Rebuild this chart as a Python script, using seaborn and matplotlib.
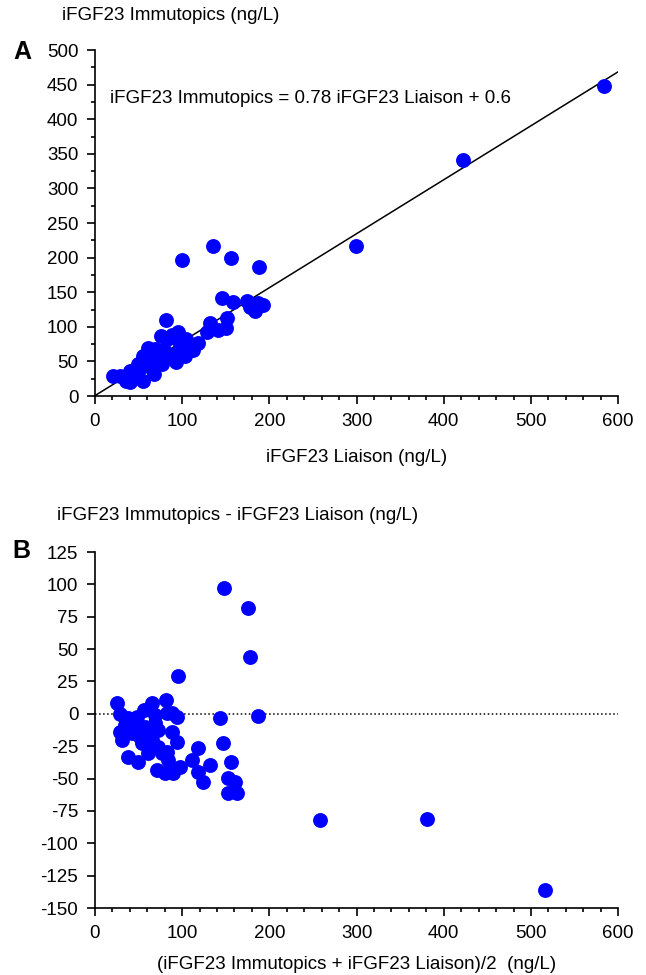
import numpy as np
import matplotlib
matplotlib.use('Agg')
import matplotlib.pyplot as plt
from matplotlib.ticker import MultipleLocator
import seaborn as sns

# Bland-Altman values: mean of the two assays and difference
mean_vals = [95.6, 81.5, 24.9, 65, 56.6, 143.4, 187.4, 88, 93.7, 28.7,
             38.2, 68.8, 88, 93.7, 147, 118.5, 28.7, 30.6, 38.2, 49.7,
             110.9, 132, 156, 118.5, 124.3, 153, 160.6, 153, 162.5, 70.7,
             80.3, 89.8, 97.5, 84, 76.4, 61.1, 53.5, 65, 42, 45.9,
             57.4, 72.6, 63, 51.6, 72.6, 82.3, 34.4, 68.8, 47.8, 82.3,
             148, 176, 178, 258, 381, 516]
diff_vals = [29.2, 10.7, 8.6, 8.6, 2.9, -3.5, -1.7, 0.4, -2.2, 0,
             -3.5, -7, -13.8, -21.5, -22.8, -26.7, -13.8, -20, -33, -37,
             -35.7, -39.5, -37, -44.7, -52.4, -49.8, -52.4, -61.4, -61.4, -43.4,
             -46, -46, -40.9, -35.7, -30.5, -30.5, -22.8, -20, -15, -8.6,
             -10, -12.5, -13.8, -17.7, -25.4, -29.3, -8.6, -1, -2.2, 0.4,
             97, 82, 44, -82, -81, -136]

# Regression shown in panel A
slope = 0.78
intercept = 0.6

mean_arr = np.array(mean_vals)
diff_arr = np.array(diff_vals)
liaison = mean_arr - diff_arr / 2
immutopics = mean_arr + diff_arr / 2

sns.set_style('ticks')
plt.rcParams['font.family'] = ['Liberation Sans', 'DejaVu Sans']
plt.rcParams['axes.linewidth'] = 1.2
plt.rcParams['axes.unicode_minus'] = False
plt.rcParams['text.color'] = 'black'
plt.rcParams['axes.labelcolor'] = 'black'

fig = plt.figure(figsize=(6.46, 9.75), dpi=100)
axA = fig.add_axes([0.147, 0.5938, 0.81, 0.3549])
axB = fig.add_axes([0.147, 0.0687, 0.81, 0.3651])

blue = '#0000ff'
fs = 13.5

# Panel A
line_x = np.array([0, 600])
axA.plot(line_x, slope * line_x + intercept, color='black', lw=1.1, zorder=1)
sns.scatterplot(x=liaison, y=immutopics, ax=axA, color=blue, s=115,
                linewidth=0, zorder=2, clip_on=False)
axA.set_xlim(0, 600)
axA.set_ylim(0, 500)
axA.xaxis.set_major_locator(MultipleLocator(100))
axA.xaxis.set_minor_locator(MultipleLocator(20))
axA.yaxis.set_major_locator(MultipleLocator(50))
axA.yaxis.set_minor_locator(MultipleLocator(25))
axA.set_xlabel('iFGF23 Liaison (ng/L)', fontsize=fs, labelpad=14)
axA.set_ylabel('')
axA.text(17, 430, 'iFGF23 Immutopics = 0.78 iFGF23 Liaison + 0.6',
         fontsize=fs, va='center', ha='left')

# Panel B
axB.plot([0, 600], [0, 0], color='black', lw=1.1, ls=':', zorder=1)
sns.scatterplot(x=mean_arr, y=diff_arr, ax=axB, color=blue, s=115,
                linewidth=0, zorder=2, clip_on=False)
axB.set_xlim(0, 600)
axB.set_ylim(-150, 125)
axB.xaxis.set_major_locator(MultipleLocator(100))
axB.xaxis.set_minor_locator(MultipleLocator(20))
axB.yaxis.set_major_locator(MultipleLocator(25))
axB.set_xlabel('(iFGF23 Immutopics + iFGF23 Liaison)/2  (ng/L)',
               fontsize=fs, labelpad=10)
axB.set_ylabel('')

for ax in (axA, axB):
    sns.despine(ax=ax)
    ax.tick_params(axis='both', which='major', direction='out', length=6,
                   width=1.2, labelsize=fs, colors='black', pad=6)
    ax.tick_params(axis='both', which='minor', direction='out', length=3,
                   width=1.2, colors='black')
    for sp in ax.spines.values():
        sp.set_color('black')

fig.text(62 / 646, 1 - 16 / 975, 'iFGF23 Immutopics (ng/L)',
         fontsize=fs, ha='left', va='center')
fig.text(57 / 646, 1 - 515 / 975, 'iFGF23 Immutopics - iFGF23 Liaison (ng/L)',
         fontsize=fs, ha='left', va='center')
fig.text(13 / 646, 1 - 52 / 975, 'A', fontsize=18, fontweight='bold',
         ha='left', va='center')
fig.text(12 / 646, 1 - 551 / 975, 'B', fontsize=18, fontweight='bold',
         ha='left', va='center')

fig.savefig('out.png', dpi=100)
